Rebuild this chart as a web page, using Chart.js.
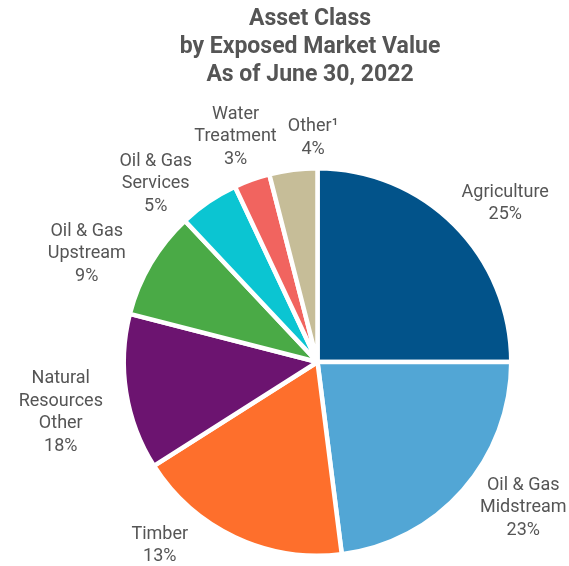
<!DOCTYPE html>
<html>
<head>
<meta charset="utf-8">
<script src="https://cdn.jsdelivr.net/npm/chart.js@4.4.1/dist/chart.umd.min.js"></script>
<style>
  html, body { margin: 0; padding: 0; background: #ffffff; }
  #wrap { width: 569px; height: 566px; position: relative; }
</style>
</head>
<body>
<div id="wrap"><canvas id="c" width="569" height="566"></canvas></div>
<script>
// Asset classes, clockwise from 12 o'clock
const categories = ['Agriculture', 'Oil & Gas Midstream', 'Natural Resources Other', 'Timber',
                    'Oil & Gas Upstream', 'Oil & Gas Services', 'Water Treatment', 'Other¹'];
const shares = [25, 23, 18, 13, 9, 5, 3, 4];
const labelLines = [['Agriculture'], ['Oil & Gas', 'Midstream'], ['Natural', 'Resources', 'Other'], ['Timber'],
                    ['Oil & Gas', 'Upstream'], ['Oil & Gas', 'Services'], ['Water', 'Treatment'], ['Other¹']];
const titleLines = ['Asset Class', 'by Exposed Market Value', 'As of June 30, 2022'];

const sliceColors = ['#02538A', '#52A6D5', '#FE6F2C', '#6C1470', '#4AAA46', '#0BC5D2', '#F1645F', '#C6BD98'];

// Label block centres, as offsets from the pie centre in units of the outer radius
const labelOffsets = [
  [0.969, -0.817],   // Agriculture
  [1.062, 0.753],    // Oil & Gas Midstream
  [-1.325, 0.260],   // Natural Resources Other
  [-0.814, 0.946],   // Timber
  [-1.191, -0.560],  // Oil & Gas Upstream
  [-0.835, -0.920],  // Oil & Gas Services
  [-0.423, -1.163],  // Water Treatment
  [-0.023, -1.155]   // Other
];

const TEXT = '#555555';
const LABEL_FONT = '18px Roboto';
const LABEL_LH = 22.5;

const outsideLabels = {
  id: 'outsideLabels',
  afterDraw(chart) {
    const ctx = chart.ctx;
    const arc = chart.getDatasetMeta(0).data[0];
    const cx = arc.x, cy = arc.y, R = arc.outerRadius;
    ctx.save();
    ctx.fillStyle = TEXT;
    ctx.font = LABEL_FONT;
    ctx.textAlign = 'center';
    ctx.textBaseline = 'middle';
    labelLines.forEach((lines, i) => {
      const all = lines.concat([shares[i] + '%']);
      const bx = cx + labelOffsets[i][0] * R;
      const by = cy + labelOffsets[i][1] * R;
      all.forEach((t, k) => {
        ctx.fillText(t, bx, by + (k - (all.length - 1) / 2) * LABEL_LH);
      });
    });
    // heading
    ctx.font = 'bold 23px Roboto';
    titleLines.forEach((t, k) => {
      ctx.fillText(t, 310, 19.5 + k * 28);
    });
    ctx.restore();
  }
};

new Chart(document.getElementById('c'), {
  type: 'pie',
  data: {
    labels: categories,
    datasets: [{
      data: shares,
      backgroundColor: sliceColors,
      borderColor: '#ffffff',
      borderWidth: 4.5
    }]
  },
  options: {
    responsive: false,
    animation: false,
    rotation: 0,
    layout: { padding: { top: 166, bottom: 8, left: 66, right: 0 } },
    plugins: {
      legend: { display: false },
      tooltip: { enabled: false },
      title: { display: false }
    }
  },
  plugins: [outsideLabels]
});
</script>
</body>
</html>
